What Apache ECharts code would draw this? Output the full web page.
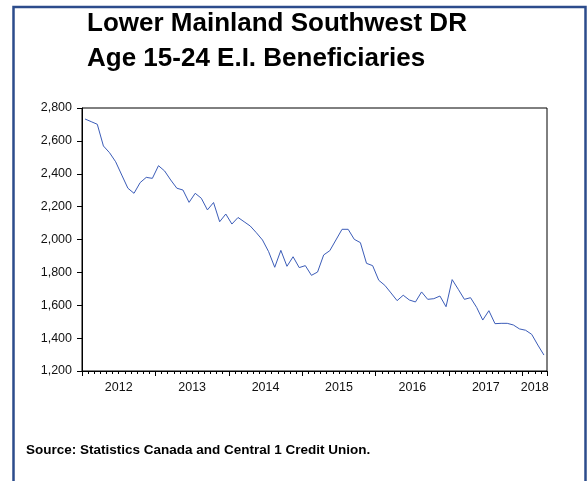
<!DOCTYPE html>
<html>
<head>
<meta charset="utf-8">
<script src="https://cdn.jsdelivr.net/npm/echarts@6/dist/echarts.min.js"></script>
<style>
html,body{margin:0;padding:0;background:#fff;}
#chart{width:587px;height:481px;}
</style>
</head>
<body>
<div id="chart"></div>
<script>
// ---- Data (monthly, Jan 2012 - Apr 2018) ----
var startYear = 2012;
var beneficiaries = [
  2733, 2717, 2701, 2569, 2528, 2473, 2392, 2312, 2281, 2346, 2378, 2372,
  2449, 2417, 2362, 2312, 2301, 2226, 2281, 2251, 2180, 2225, 2108, 2155,
  2094, 2134, 2108, 2082, 2041, 1997, 1926, 1831, 1934, 1837, 1895, 1829,
  1841, 1782, 1802, 1906, 1932, 1997, 2062, 2062, 2001, 1981, 1855, 1841,
  1752, 1721, 1675, 1628, 1661, 1632, 1620, 1681, 1636, 1640, 1656, 1591,
  1756, 1697, 1636, 1646, 1587, 1510, 1567, 1488, 1490, 1490, 1480, 1456,
  1448, 1423, 1358, 1297
];
var yearLabels = ['2012', '2013', '2014', '2015', '2016', '2017', '2018'];
var yTicks = { min: 1200, max: 2800, step: 200 };
var titleLines = ['Lower Mainland Southwest DR', 'Age 15-24 E.I. Beneficiaries'];
var sourceText = 'Source: Statistics Canada and Central 1 Credit Union.';

// month categories
var months = beneficiaries.map(function (v, i) {
  var y = startYear + Math.floor(i / 12);
  var m = (i % 12) + 1;
  return y + '-' + (m < 10 ? '0' + m : m);
});
var nMonths = months.length;

// year label positions = middle of the months belonging to that year
var yearMid = {};
yearLabels.forEach(function (yl) {
  var first = months.findIndex(function (m) { return m.indexOf(yl) === 0; });
  var count = months.filter(function (m) { return m.indexOf(yl) === 0; }).length;
  yearMid[first + count / 2] = yl;
});

var FONT = "'Liberation Sans', Arial, sans-serif";
var chart = echarts.init(document.getElementById('chart'), null, { renderer: 'canvas' });

var option = {
  animation: false,
  backgroundColor: '#ffffff',
  title: {
    text: titleLines.join('\n'),
    left: 87,
    top: 6,
    padding: 0,
    textStyle: {
      fontFamily: FONT,
      fontSize: 26,
      fontWeight: 'bold',
      color: '#000',
      lineHeight: 35,
      align: 'left'
    }
  },
  grid: {
    left: 82, top: 108, right: 40, bottom: 110,
    show: true, borderColor: '#000', borderWidth: 1,
    containLabel: false
  },
  xAxis: [
    {
      type: 'category', data: months, boundaryGap: true, position: 'bottom',
      axisLine: { show: true, lineStyle: { color: '#000', width: 1 } },
      axisTick: { show: true, interval: 0, length: 3, lineStyle: { color: '#000' } },
      axisLabel: { show: false },
      splitLine: { show: false }
    },
    {
      type: 'category', data: months, boundaryGap: true, position: 'bottom',
      axisLine: { show: false },
      axisTick: { show: true, length: 5, lineStyle: { color: '#000' },
        interval: function (i) { return i % 12 === 0; } },
      axisLabel: { show: false },
      splitLine: { show: false }
    },
    {
      type: 'value', min: 0, max: nMonths, interval: 2, position: 'bottom',
      axisLine: { show: false }, axisTick: { show: false }, splitLine: { show: false },
      axisLabel: {
        show: true, margin: 10, fontFamily: FONT, fontSize: 12.5, color: '#111',
        showMinLabel: true, showMaxLabel: true,
        formatter: function (v) { return yearMid[v] || ''; }
      }
    }
  ],
  yAxis: {
    type: 'value', min: yTicks.min, max: yTicks.max, interval: yTicks.step,
    axisLine: { show: true, lineStyle: { color: '#000', width: 1 } },
    axisTick: { show: true, length: 5, lineStyle: { color: '#000' } },
    splitLine: { show: false },
    axisLabel: {
      margin: 10, fontFamily: FONT, fontSize: 12.5, color: '#111',
      formatter: function (v) { return v.toLocaleString('en-US'); }
    }
  },
  series: [{
    type: 'line',
    xAxisIndex: 0,
    data: beneficiaries,
    symbol: 'none',
    lineStyle: { color: '#3b5cb8', width: 1 },
    silent: true
  }],
  graphic: [
    {
      type: 'rect', silent: true, z: 100,
      shape: { x: 13.5, y: 7, width: 572, height: 520 },
      style: { fill: 'none', stroke: '#2c4c8c', lineWidth: 2.5 }
    },
    {
      type: 'text', left: 26, top: 443, silent: true,
      style: {
        text: sourceText, fontFamily: FONT, fontSize: 13.5, fontWeight: 'bold',
        fill: '#000'
      }
    }
  ]
};
chart.setOption(option);
</script>
</body>
</html>
